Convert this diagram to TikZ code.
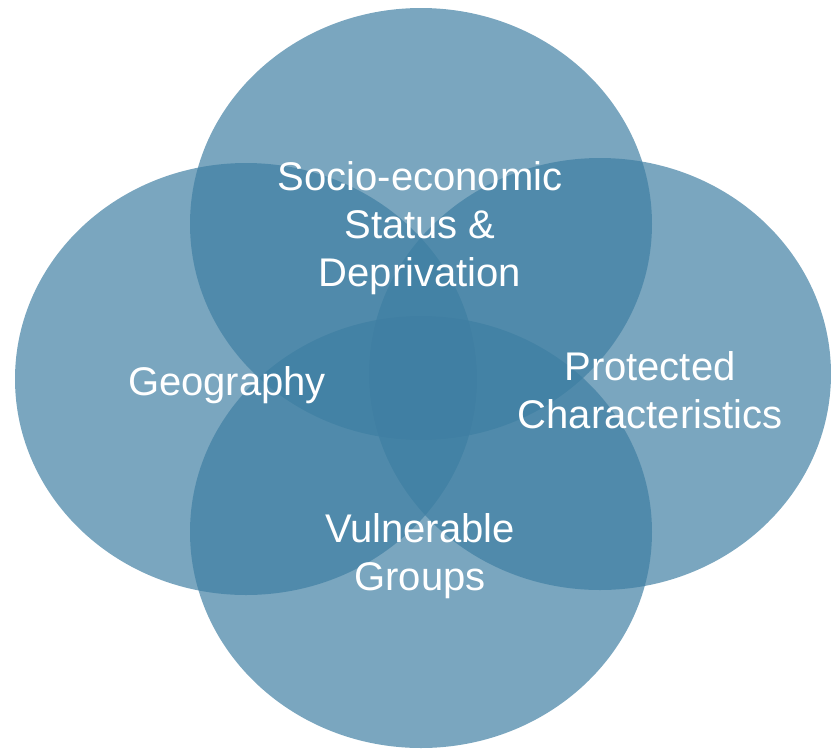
\documentclass[tikz,border=0pt]{standalone}
\usepackage{fontspec}
\setmainfont{Liberation Sans}
\usepackage{tikz}
\usetikzlibrary{shapes.geometric}
\definecolor{vennblue}{RGB}{62,126,162}
\tikzset{
    ring/.style={ellipse, fill=vennblue, fill opacity=0.69, draw=none, inner sep=0pt, outer sep=0pt,
        minimum width=462pt, minimum height=432pt},
    tag/.style={align=center, text=white, inner sep=0pt, font=\fontsize{40}{48}\selectfont}
}

\begin{document}
\begin{tikzpicture}[x=1pt, y=-1pt]
    \useasboundingbox (0,0) rectangle (831,748);
    \node[ring] (socio) at (421,224) {};
    \node[ring] (geo) at (246,379) {};
    \node[ring] (prot) at (600,374) {};
    \node[ring] (vuln) at (421,532) {};

    \node[tag] (sociotext) at (420,228) {Socio-economic\\Status \&\\Deprivation};
    \node[tag] (geotext) at (227,385) {Geography};
    \node[tag] (prottext) at (650,390) {Protected\\Characteristics};
    \node[tag] (vulntext) at (420,556) {Vulnerable\\Groups};
\end{tikzpicture}
\end{document}
